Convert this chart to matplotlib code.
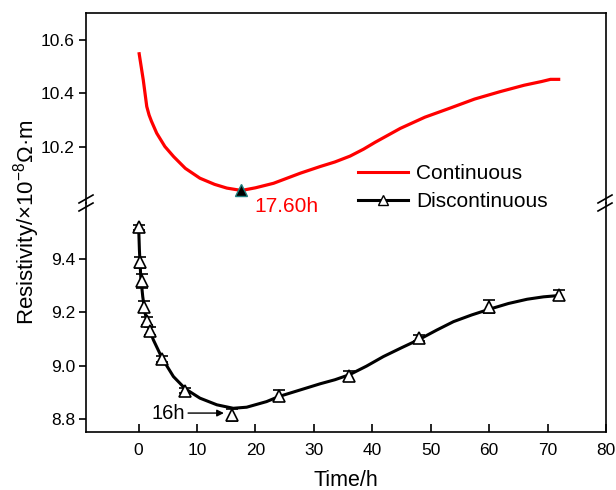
import matplotlib
matplotlib.use("Agg")
import matplotlib.pyplot as plt
from matplotlib.lines import Line2D

plt.rcParams["font.family"] = ["Liberation Sans", "DejaVu Sans"]
plt.rcParams["mathtext.fontset"] = "custom"
plt.rcParams["mathtext.rm"] = "Liberation Sans"
plt.rcParams["mathtext.it"] = "Liberation Sans:italic"

# continuous test (red curve)
cont_t = [0.1, 0.8, 1.4, 1.8, 2.2, 3.1, 4.5, 6.0, 8.0, 10.5, 13.0, 15.1, 17.6, 20.0,
          23.1, 27.7, 31.1, 33.6, 36.2, 38.5, 40.5, 44.8, 49.0, 53.3, 57.5, 61.9,
          66.0, 69.0, 70.5, 71.9]
cont_v = [10.548, 10.45, 10.35, 10.318, 10.295, 10.25, 10.20, 10.162, 10.118, 10.081,
          10.058, 10.044, 10.035, 10.045, 10.062, 10.10, 10.125, 10.142, 10.164,
          10.19, 10.216, 10.268, 10.31, 10.344, 10.378, 10.406, 10.43, 10.444,
          10.452, 10.452]

# discontinuous test: measured points with error bars
disc_t = [0, 0.25, 0.5, 1, 1.5, 2, 4, 8, 16, 24, 36, 48, 60, 72]
disc_v = [9.519, 9.388, 9.318, 9.221, 9.168, 9.128, 9.024, 8.906, 8.815, 8.887,
          8.961, 9.103, 9.221, 9.265]
disc_err = [0.01, 0.02, 0.025, 0.02, 0.015, 0.015, 0.012, 0.01, 0.022, 0.02,
            0.02, 0.012, 0.025, 0.02]

# fitted curve through the discontinuous points
fit_t = [0, 0.14, 0.37, 0.71, 1.11, 1.68, 2.54, 4.02, 5.96, 8.0, 10.5, 13.4, 16.2,
         18.5, 21.9, 24, 27.7, 31.1, 33.6, 36.1, 39.0, 41.9, 45.0, 48.1, 51.0, 53.9,
         57.0, 60.1, 63.3, 66.5, 69.3, 72]
fit_v = [9.528, 9.434, 9.334, 9.259, 9.197, 9.146, 9.096, 9.028, 8.959, 8.913, 8.878,
         8.853, 8.840, 8.844, 8.865, 8.884, 8.909, 8.932, 8.947, 8.966, 8.998, 9.034,
         9.067, 9.099, 9.133, 9.165, 9.190, 9.212, 9.233, 9.249, 9.258, 9.263]

x_ticks = [0, 10, 20, 30, 40, 50, 60, 70, 80]
top_ticks = [10.2, 10.4, 10.6]
bot_ticks = [8.8, 9.0, 9.2, 9.4]

W, H = 616, 490
fig = plt.figure(figsize=(W / 100, H / 100), dpi=100)

L, R = 86 / W, 606 / W
y_bot, y_mid, y_top = 1 - 432 / H, 1 - 203 / H, 1 - 13 / H
ax_top = fig.add_axes([L, y_mid, R - L, y_top - y_mid])
ax_bot = fig.add_axes([L, y_bot, R - L, y_mid - y_bot])

for ax in (ax_top, ax_bot):
    ax.set_xlim(-9, 80)
    ax.patch.set_visible(False)
    for s in ax.spines.values():
        s.set_linewidth(1.2)
    ax.tick_params(axis="y", direction="out", length=5, width=1.2, pad=3,
                   labelsize=12.5, right=False)
    ax.tick_params(axis="x", direction="in", length=6, width=1.2, pad=8,
                   labelsize=12.5, top=False)

ax_top.set_ylim(9.988, 10.701)
ax_bot.set_ylim(8.751, 9.610)
ax_top.set_yticks(top_ticks)
ax_top.set_yticklabels([f"{v:.1f}" for v in top_ticks])
ax_bot.set_yticks(bot_ticks)
ax_bot.set_yticklabels([f"{v:.1f}" for v in bot_ticks])
ax_bot.set_xticks(x_ticks)
ax_top.set_xticks([])
ax_top.spines["bottom"].set_visible(False)
ax_bot.spines["top"].set_visible(False)

# red continuous curve + its minimum
ax_top.plot(cont_t, cont_v, color="#ff0000", lw=2.3, solid_joinstyle="round")
ax_top.plot([17.6], [10.035], marker="^", color="black", mec="#1f7f7f", mew=1,
            ms=8, clip_on=False, zorder=5)
ax_top.text(19.9, 9.955, "17.60h", color="#ff0000", fontsize=15,
            ha="left", va="baseline", clip_on=False, zorder=10)

# black discontinuous data
ax_bot.plot(fit_t, fit_v, color="black", lw=2.2, solid_joinstyle="round")
ax_bot.errorbar(disc_t, disc_v, yerr=disc_err, fmt="none", ecolor="black",
                elinewidth=1.2, capsize=4, capthick=1.2)
ax_bot.plot(disc_t, disc_v, ls="none", marker="^", ms=8, mfc="white",
            mec="black", mew=1.2, clip_on=False, zorder=5)
ax_bot.annotate("16h", xy=(14.6, 8.822), xytext=(8.0, 8.822),
                fontsize=14.5, ha="right", va="center",
                arrowprops=dict(arrowstyle="-|>", color="black", lw=1,
                                shrinkA=0, shrinkB=0, mutation_scale=10))

# break marks on both side spines
for xc in (86, 605):
    for yc in (199, 207):
        fig.add_artist(Line2D([(xc - 7) / W, (xc + 7) / W],
                              [1 - (yc + 4) / H, 1 - (yc - 4) / H],
                              color="black", lw=1.2))

# legend
handles = [
    Line2D([], [], color="#ff0000", lw=2.2),
    Line2D([], [], color="black", lw=2.2, marker="^", ms=7, mfc="white",
           mec="black", mew=1),
]
fig.legend(handles, ["Continuous", "Discontinuous"], loc="upper left",
           bbox_to_anchor=(358 / W, 1 - 164 / H), frameon=False, fontsize=15,
           handlelength=2.4, handletextpad=0.4, labelspacing=0.45,
           borderpad=0, borderaxespad=0)

fig.text(27 / W, 1 - 222 / H, "Resistivity/×10$^{−8}$Ω·m", rotation=90,
         ha="center", va="center", fontsize=16)
fig.text(346 / W, 1 - 480 / H, "Time/h", ha="center", va="center", fontsize=15.5)

fig.savefig("out.png", dpi=100, facecolor="white")
